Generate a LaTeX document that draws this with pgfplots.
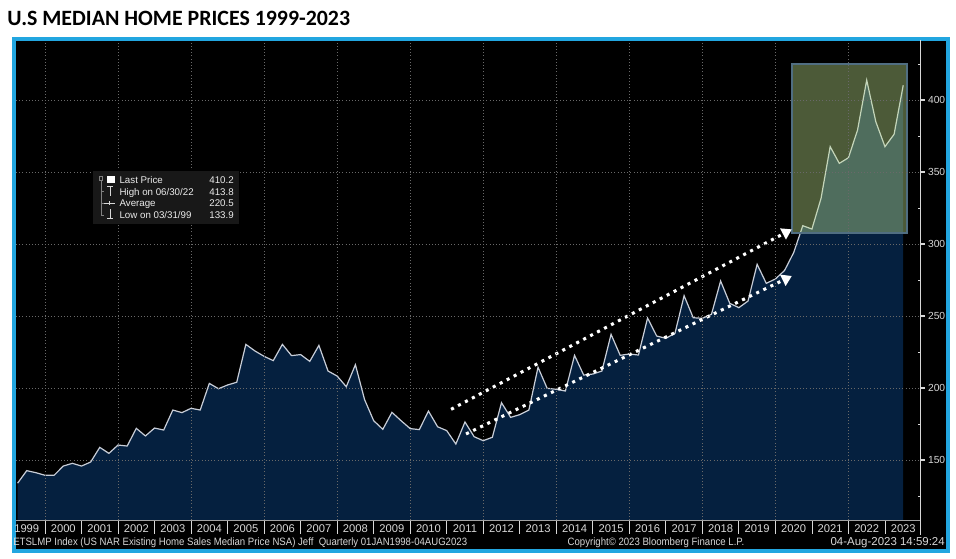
\documentclass[border=0pt]{standalone}
\usepackage{fontspec}
\setmainfont{Liberation Sans}
\newfontfamily\bbgn{Liberation Sans}[FakeStretch=0.9]
\newfontfamily\titlefont{Carlito}
\usepackage{pgfplots}
\usepackage{pgfplotstable}
\pgfplotsset{compat=1.18}
\usetikzlibrary{arrows.meta}
\definecolor{framec}{RGB}{34,166,224}
\definecolor{navy}{RGB}{5,32,63}
\definecolor{pline}{RGB}{200,205,215}
\definecolor{gridc}{RGB}{105,105,105}
\definecolor{boxc}{RGB}{190,225,140}
\definecolor{boxd}{RGB}{80,110,130}
\definecolor{txt}{RGB}{215,215,215}
\definecolor{legbg}{RGB}{24,24,24}

\pgfplotstableread{
x y
1999.25 133.9
1999.5 142.6
1999.75 141.2
2000.0 139.4
2000.25 139.4
2000.5 145.8
2000.75 147.7
2001.0 145.8
2001.25 148.6
2001.5 158.8
2001.75 154.6
2002.0 160.4
2002.25 159.7
2002.5 172.0
2002.75 166.7
2003.0 172.2
2003.25 170.8
2003.5 184.7
2003.75 182.9
2004.0 185.9
2004.25 184.7
2004.5 203.2
2004.75 199.5
2005.0 202.1
2005.25 204.0
2005.5 230.3
2005.75 225.7
2006.0 222.0
2006.25 219.0
2006.5 230.3
2006.75 222.5
2007.0 223.2
2007.25 218.5
2007.5 229.6
2007.75 211.8
2008.0 208.3
2008.25 200.9
2008.5 216.2
2008.75 192.0
2009.0 177.3
2009.25 171.3
2009.5 183.1
2009.75 177.3
2010.0 171.8
2010.25 171.1
2010.5 184.0
2010.75 173.1
2011.0 170.4
2011.25 161.1
2011.5 176.4
2011.75 166.2
2012.0 163.4
2012.25 165.8
2012.5 189.8
2012.75 179.6
2013.0 181.5
2013.25 184.7
2013.5 214.4
2013.75 199.8
2014.0 199.1
2014.25 197.9
2014.5 222.7
2014.75 209.0
2015.0 209.7
2015.25 211.8
2015.5 237.3
2015.75 222.7
2016.0 223.6
2016.25 222.9
2016.5 248.6
2016.75 236.1
2017.0 234.5
2017.25 238.0
2017.5 264.1
2017.75 248.8
2018.0 248.4
2018.25 251.2
2018.5 274.3
2018.75 258.8
2019.0 255.8
2019.25 260.4
2019.5 285.9
2019.75 272.7
2020.0 275.7
2020.25 281.6
2020.5 294.0
2020.75 312.7
2021.0 310.4
2021.25 331.7
2021.5 367.6
2021.75 356.0
2022.0 359.9
2022.25 379.2
2022.5 413.8
2022.75 384.9
2023.0 367.6
2023.25 376.2
2023.5 410.2
}\prices

\begin{document}
\begin{tikzpicture}
\begin{scope}[x=0.75pt,y=-0.75pt]
\fill[white] (0,0) rectangle (956,558);
\fill[black] (12,37) rectangle (950,553);
\draw[framec, line width=3pt] (14,39) rectangle (948,551);
\node[anchor=base west, inner sep=0pt, font=\titlefont\bfseries\fontsize{16.4}{17}\selectfont] at (7,25) {U.S MEDIAN HOME PRICES 1999-2023};
\end{scope}

\begin{axis}[
  at={(12pt,-390pt)}, anchor=south west,
  scale only axis, width=678.5pt, height=358.5pt,
  xmin=1999.206, xmax=2023.978, ymin=108.33, ymax=440.28,
  axis background/.style={fill=black},
  axis line style={draw=none},
  xtick={2000,2002,...,2022}, xticklabels={}, xmajorgrids,
  x tick style={draw=none},
  ytick={150,200,...,400}, ymajorgrids, ytick pos=right,
  tick align=outside, major tick length=3pt,
  y tick style={color=txt, line width=1.2pt},
  extra y ticks={125,175,...,425}, extra y tick labels={},
  extra y tick style={tick align=inside, major tick length=2pt, grid=none, y tick style={line width=0.6pt}},
  /pgf/number format/assume math mode=true,
  yticklabel style={font=\fontsize{7.7}{8}\selectfont, text=txt, xshift=-1pt},
  grid style={gridc, dotted, line width=0.6pt},
  axis on top,
]
\addplot[fill=navy, draw=none] table[x=x,y=y]{\prices} \closedcycle;
\addplot[pline, line width=0.9pt] table[x=x,y=y]{\prices};
\fill[boxc, fill opacity=0.4] (axis cs:2020.45,307.4) rectangle (axis cs:2023.61,425);
\draw[boxd, line width=1.3pt] (axis cs:2020.45,307.4) rectangle (axis cs:2023.61,425);
\draw[white, line width=2.3pt, dash pattern=on 2.3pt off 3.6pt, -{Triangle[width=9pt,length=7.5pt]}] (axis cs:2011.12,185.2) -- (axis cs:2020.45,310.2);
\draw[white, line width=2.3pt, dash pattern=on 2.3pt off 3.6pt, -{Triangle[width=9pt,length=7.5pt]}] (axis cs:2011.53,168.1) -- (axis cs:2020.45,277.8);
\end{axis}

\begin{scope}[x=0.75pt,y=-0.75pt]
\draw[txt!75!black, line width=0.6pt] (16,520) -- (920.7,520);
\draw[txt, line width=0.75pt] (920.7,40) -- (920.7,535);
\foreach \k in {0,...,23} \draw[txt, line width=0.6pt] ({45+36.52*\k},521) -- ++(0,13);
\foreach \k in {0,...,24}{\pgfmathtruncatemacro\yr{1999+\k}
  \node[font=\fontsize{8.4}{9}\selectfont, text=txt, anchor=base, inner sep=0pt] at ({26.75+36.52*\k},532.3) {\yr};}
\node[font=\bbgn\fontsize{8}{9}\selectfont, text=txt, anchor=base west, inner sep=0pt] at (13,545.5) {ETSLMP Index (US NAR Existing Home Sales Median Price NSA) Jeff\ \ Quarterly 01JAN1998-04AUG2023};
\node[font=\bbgn\fontsize{8}{9}\selectfont, text=txt, anchor=base, inner sep=0pt] at (656,545.5) {Copyright\textcopyright\ 2023 Bloomberg Finance L.P.};
\node[font=\fontsize{8.6}{9}\selectfont, text=txt, anchor=base east, inner sep=0pt] at (945,545.5) {04-Aug-2023 14:59:24};
% legend box
\fill[legbg] (93,171) rectangle (239,224);
\draw[gray, line width=0.5pt] (99.5,176.5) rectangle (102.5,180);
\draw[gray, line width=0.5pt] (101,180) -- (101,216) ;
\foreach \yy in {191,203,215} \draw[gray, line width=0.5pt] (101,\yy) -- (104,\yy);
\fill[white] (107,175.5) rectangle (115,183);
\draw[txt, line width=0.6pt] (107,186) -- (113,186) (110,186) -- (110,196);
\draw[txt, line width=0.6pt] (104,203) -- (115,203) (109.5,201) -- (109.5,205);
\draw[txt, line width=0.6pt] (110,209) -- (110,218) (107,218) -- (113,218);
\begin{scope}[every node/.style={font=\fontsize{7.3}{8}\selectfont, text=white!92!black, inner sep=0pt}]
\node[anchor=base west] at (119.3,183.5) {Last Price};
\node[anchor=base east] at (234,183.5) {410.2};
\node[anchor=base west] at (119.3,195) {High on 06/30/22};
\node[anchor=base east] at (234,195) {413.8};
\node[anchor=base west] at (119.3,206.7) {Average};
\node[anchor=base east] at (234,206.7) {220.5};
\node[anchor=base west] at (119.3,218.5) {Low on 03/31/99};
\node[anchor=base east] at (234,218.5) {133.9};
\end{scope}
\end{scope}
\end{tikzpicture}
\end{document}
